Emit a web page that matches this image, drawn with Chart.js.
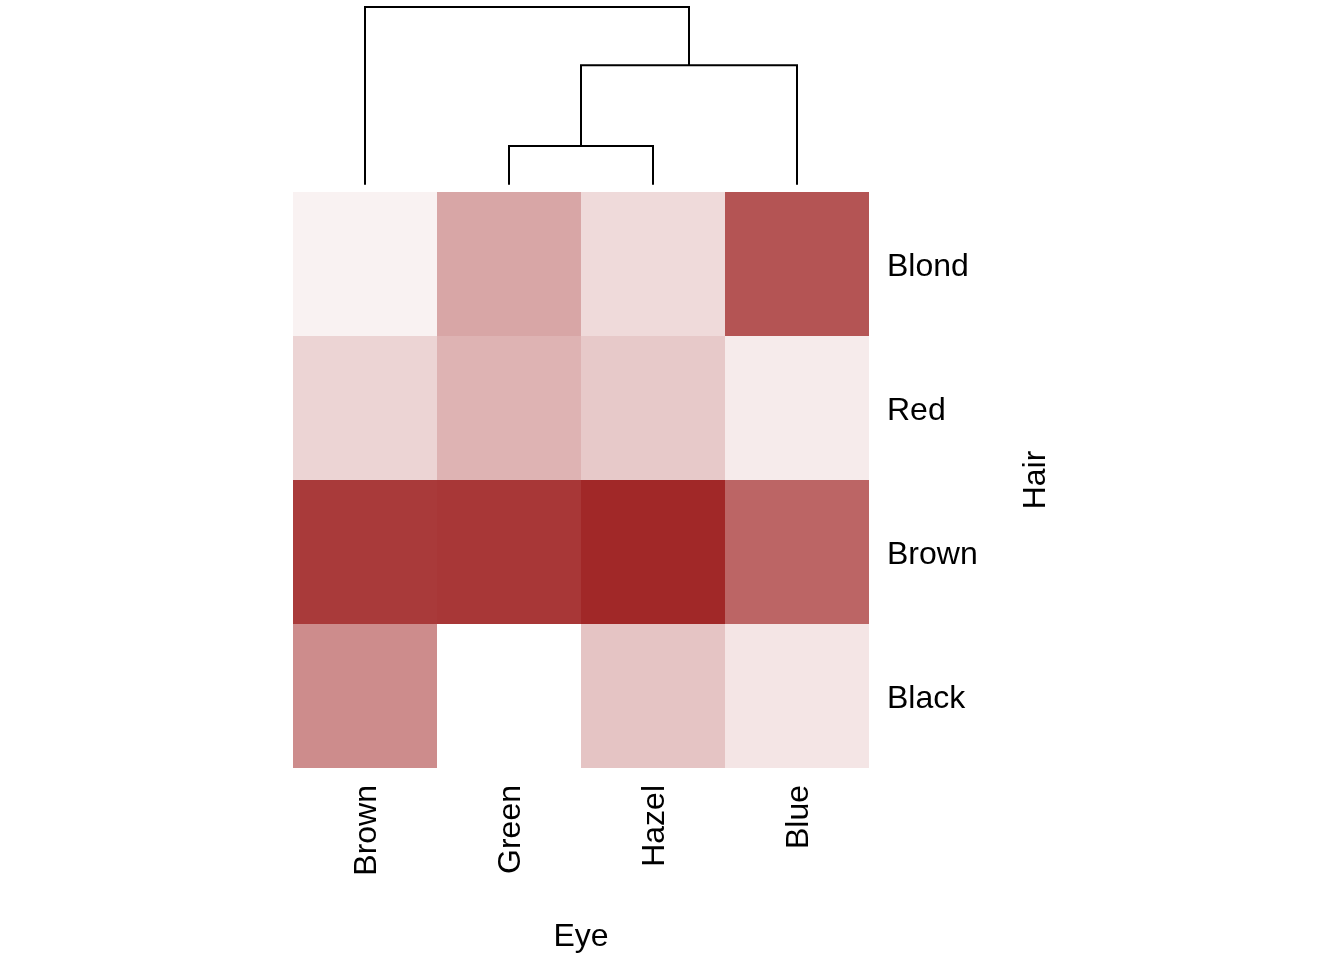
<!DOCTYPE html>
<html>
<head>
<meta charset="utf-8">
<script src="https://cdn.jsdelivr.net/npm/chart.js@4.4.0/dist/chart.umd.min.js"></script>
<style>
  html, body { margin: 0; padding: 0; background: #fff; }
  #wrap { position: relative; width: 1344px; height: 960px; }
</style>
</head>
<body>
<div id="wrap"><canvas id="chart" width="1344" height="960"></canvas></div>
<script>
// eye colour columns, in dendrogram order
const eyeLabels = ['Brown', 'Green', 'Hazel', 'Blue'];
// hair colour rows, top to bottom
const hairLabels = ['Blond', 'Red', 'Brown', 'Black'];
// cell intensity (0 = white, 1 = full red), one array per hair row
const blondRow = [0.06, 0.41, 0.17, 0.79];
const redRow   = [0.20, 0.35, 0.25, 0.09];
const brownRow = [0.91, 0.92, 0.99, 0.71];
const blackRow = [0.53, 0.00, 0.27, 0.12];
// dendrogram over the eye columns; a number refers to an earlier merge
const merges = [['Green', 'Hazel'], [0, 'Blue'], ['Brown', 1]];
const mergeHeights = [0.32, 0.88, 1.285];  // above the top of the heatmap
const leafHeight = 0.05;

const rows = [blondRow, redRow, brownRow, blackRow];
const nRows = hairLabels.length;
const font = { family: '"Liberation Sans", Arial, sans-serif', size: 32 };
const fullRed = [160, 38, 38];

Chart.defaults.font.family = font.family;
Chart.defaults.color = '#000';

// blend the full red with white by intensity, so cells are opaque
function cellColor(v) {
  const c = fullRed.map(ch => Math.round(255 - v * (255 - ch)));
  return 'rgb(' + c.join(',') + ')';
}

// heatmap cells as floating bars
const cells = [];
const cellColors = [];
rows.forEach((row, r) => {
  row.forEach((v, c) => {
    cells.push({ x: c + 0.5, y: [nRows - 1 - r, nRows - r] });
    cellColors.push(cellColor(v));
  });
});

// dendrogram links as line datasets
const mergeX = [];
function node(ref) {
  if (typeof ref === 'string') {
    return { x: eyeLabels.indexOf(ref) + 0.5, y: nRows + leafHeight };
  }
  return { x: mergeX[ref], y: nRows + mergeHeights[ref] };
}
const links = merges.map((m, i) => {
  const a = node(m[0]);
  const b = node(m[1]);
  const h = nRows + mergeHeights[i];
  mergeX[i] = (a.x + b.x) / 2;
  return {
    type: 'line',
    data: [a, { x: a.x, y: h }, { x: b.x, y: h }, b],
    borderColor: '#000',
    borderWidth: 2,
    pointRadius: 0,
    fill: false,
    tension: 0,
    clip: false
  };
});

const hairTitle = {
  id: 'hairTitle',
  afterDraw(chart) {
    const { ctx, chartArea } = chart;
    const y = chart.scales.y;
    const mid = (y.getPixelForValue(0) + y.getPixelForValue(nRows)) / 2;
    ctx.save();
    ctx.translate(chartArea.right + 167, mid);
    ctx.rotate(-Math.PI / 2);
    ctx.font = font.size + 'px ' + font.family;
    ctx.textAlign = 'center';
    ctx.textBaseline = 'middle';
    ctx.fillStyle = '#000';
    ctx.fillText('Hair', 0, 0);
    ctx.restore();
  }
};

new Chart(document.getElementById('chart'), {
  type: 'bar',
  data: {
    datasets: [
      {
        data: cells,
        backgroundColor: cellColors,
        borderWidth: 0,
        inflateAmount: 0,
        barPercentage: 1,
        categoryPercentage: 1
      },
      ...links
    ]
  },
  options: {
    responsive: false,
    animation: false,
    layout: { padding: { left: 293, top: 3, right: 0, bottom: 0 } },
    plugins: {
      legend: { display: false },
      tooltip: { enabled: false }
    },
    scales: {
      x: {
        type: 'linear',
        min: 0,
        max: eyeLabels.length,
        offset: false,
        grid: { display: false, drawTicks: false },
        border: { display: false },
        afterBuildTicks: s => { s.ticks = eyeLabels.map((l, i) => ({ value: i + 0.5 })); },
        ticks: {
          callback: v => eyeLabels[Math.floor(v)],
          autoSkip: false,
          minRotation: 90,
          maxRotation: 90,
          labelOffset: 2,
          padding: 17,
          font: font
        },
        title: { display: true, text: 'Eye', font: font, padding: { top: 0, bottom: 4 } },
        afterFit: s => { s.height = 192; s.paddingLeft = 0; s.paddingRight = 0; }
      },
      y: {
        type: 'linear',
        position: 'right',
        min: 0,
        max: 5.3125,
        grid: { display: false, drawTicks: false },
        border: { display: false },
        afterBuildTicks: s => { s.ticks = hairLabels.map((l, i) => ({ value: nRows - i - 0.5 })); },
        ticks: {
          callback: v => hairLabels[nRows - 1 - Math.floor(v)],
          autoSkip: false,
          labelOffset: 3,
          padding: 18,
          font: font
        },
        afterFit: s => { s.width = 475; s.paddingTop = 0; s.paddingBottom = 0; }
      }
    }
  },
  plugins: [hairTitle]
});
</script>
</body>
</html>
